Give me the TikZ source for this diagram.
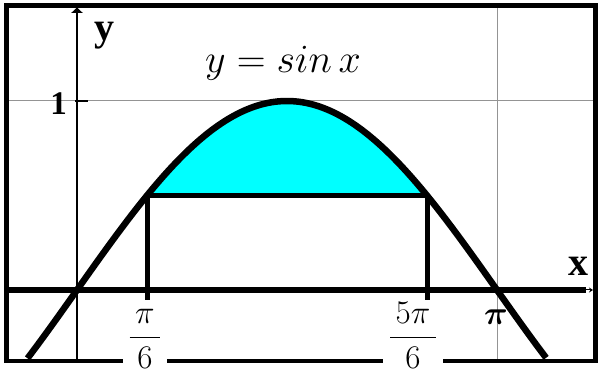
\RequirePackage{fix-cm}
\documentclass[tikz,border=0pt]{standalone}
\usepackage{amsmath}
\usepackage{fontspec}
\newfontfamily\tnr{Liberation Serif}
\usetikzlibrary{arrows.meta}
\definecolor{aqua}{RGB}{0,255,255}
\begin{document}
\begin{tikzpicture}[x=1pt,y=-1pt,
  frameline/.style={line width=5pt,line join=miter},
  gridline/.style={draw=black!42,line width=1pt},
  axisline/.style={line width=1.3pt},
  heavy/.style={line width=6.5pt},
  lbl/.style={inner sep=0pt,anchor=base},
  bigbold/.style={font=\tnr\bfseries\fontsize{40}{44}\selectfont},
  fraclbl/.style={fill=white,inner xsep=6pt,inner ysep=1pt,anchor=base,font=\fontsize{33}{36}\selectfont}]
\useasboundingbox (0,0) rectangle (598,377);
% grid lines
\draw[gridline] (6.5,101) -- (595.5,101);
\draw[gridline] (497,6) -- (497,361);
% points
\coordinate (A) at ({77+133.69*pi/6},195.5);
\coordinate (B) at ({77+133.69*5*pi/6},195.5);
\coordinate (Ab) at ({77+133.69*pi/6},300);
\coordinate (Bb) at ({77+133.69*5*pi/6},300);
% filled region
\fill[aqua] plot[domain={pi/6}:{5*pi/6},samples=80] ({77+133.69*\x},{290-189*sin(\x r)}) -- cycle;
% axes
\draw[axisline,-{Latex[length=6pt,width=13pt]}] (77,361) -- (77,7);
\draw[line width=1.5pt] (75,101) -- (88,101);
\draw[line width=6pt] (6.5,290) -- (586,290);
\draw[line width=1pt,-{Stealth[length=4pt,width=5pt]}] (584,290) -- (593,290);
% curve
\draw[heavy] plot[domain=-0.37:3.51,samples=150] ({77+133.69*\x},{290-189*sin(\x r)});
\draw[line width=5.5pt] (A) -- (B);
\draw[line width=5pt] (A) -- (Ab);
\draw[line width=5pt] (B) -- (Bb);
% frame
\draw[frameline] (6.5,361) -- (6.5,6) -- (595.5,6) -- (595.5,361);
\draw[line width=4pt] (4,361) -- (598,361);
% labels
\node[lbl,bigbold] (ylab) at (104,41) {y};
\node[lbl,bigbold] (xlab) at (578,276) {x};
\node[lbl,font=\tnr\bfseries\fontsize{33}{36}\selectfont] (one) at (58.5,115) {1};
\node[lbl,font=\fontsize{40}{44}\selectfont] (title) at (283,73) {$y = sin\,x$};
\node[fraclbl] (f1) at (145,346) {$\dfrac{\,\pi\,}{6}$};
\node[fraclbl] (f5) at (413,346) {$\dfrac{\,5\pi\,}{6}$};
\node[lbl,font=\fontsize{33}{36}\selectfont] (pilab) at (496,325) {$\boldsymbol{\pi}$};
\end{tikzpicture}
\end{document}
